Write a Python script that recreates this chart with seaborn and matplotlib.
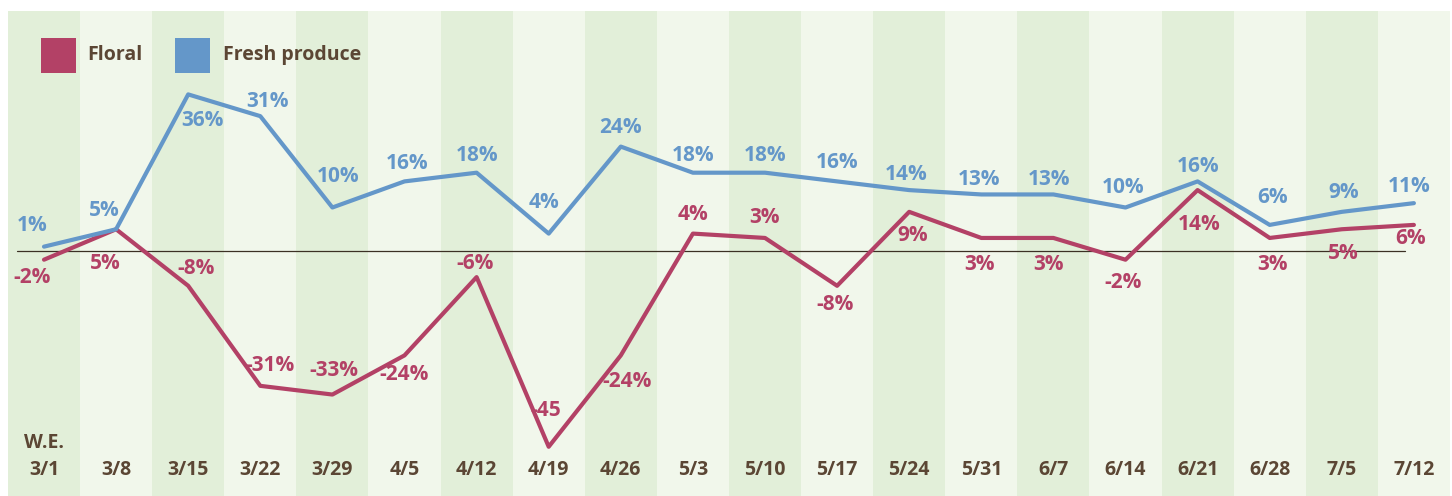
import matplotlib
matplotlib.use("Agg")
import matplotlib.pyplot as plt
import numpy as np
import pandas as pd
import seaborn as sns
from matplotlib.patches import Rectangle

# ---------------- data ----------------
weeks = ["3/1", "3/8", "3/15", "3/22", "3/29", "4/5", "4/12", "4/19", "4/26", "5/3",
         "5/10", "5/17", "5/24", "5/31", "6/7", "6/14", "6/21", "6/28", "7/5", "7/12"]
floral = [-2, 5, -8, -31, -33, -24, -6, -45, -24, 4, 3, -8, 9, 3, 3, -2, 14, 3, 5, 6]
fresh = [1, 5, 36, 31, 10, 16, 18, 4, 24, 18, 18, 16, 14, 13, 13, 10, 16, 6, 9, 11]
floral_labels = ["-2%", "5%", "-8%", "-31%", "-33%", "-24%", "-6%", "-45", "-24%", "4%",
                 "3%", "-8%", "9%", "3%", "3%", "-2%", "14%", "3%", "5%", "6%"]
fresh_labels = ["1%", "5%", "36%", "31%", "10%", "16%", "18%", "4%", "24%", "18%",
                "18%", "16%", "14%", "13%", "13%", "10%", "16%", "6%", "9%", "11%"]
series_names = ["Floral", "Fresh produce"]

# ---------------- layout (pixel offsets of value labels) ----------------
fresh_off = [(-12, 21), (-12, 19), (14, -26), (7, 15), (6, 31), (3, 18), (0, 17), (-5, 31),
             (0, 19), (0, 17), (0, 17), (0, 19), (-3, 16), (-2, 15), (-4, 15), (-2, 20),
             (0, 15), (3, 27), (2, 19), (-5, 17)]
floral_off = [(-12, -18), (-11, -34), (8, 17), (10, 20), (1, 24), (0, -19), (-2, 14), (-3, 36),
              (6, -26), (0, 19), (0, 20), (-2, -19), (3, -24), (-2, -27), (-5, -27), (-2, -23),
              (2, -34), (3, -27), (2, -24), (-3, -14)]

C_FLORAL = "#b34166"
C_FRESH = "#6497c9"
C_TEXT = "#5b4634"
BAND_DARK = "#e2efd9"
BAND_LIGHT = "#f1f7eb"

sns.set_theme(style="white")
plt.rcParams["font.family"] = ["Open Sans", "DejaVu Sans"]

W, H = 1452, 496
fig = plt.figure(figsize=(W / 100, H / 100), dpi=100)
ax = fig.add_axes([0, 0, 1, 1])

PX, X0, Y0, PY = 72.1, 44.0, 251.0, 4.35


def px2x(p):
    return (p - X0) / PX


def py2y(p):
    return (Y0 - p) / PY


n = len(weeks)
# background bands
for i in range(n):
    ax.add_patch(Rectangle((i - 0.5, py2y(H)), 1, py2y(11) - py2y(H),
                           facecolor=BAND_DARK if i % 2 == 0 else BAND_LIGHT,
                           edgecolor="none", zorder=0))

# zero line
ax.plot([px2x(17), px2x(1405)], [0, 0], color="#3b3024", lw=0.9, zorder=1)

df = pd.DataFrame({
    "i": list(range(n)) * 2,
    "value": floral + fresh,
    "series": [series_names[0]] * n + [series_names[1]] * n,
})
sns.lineplot(data=df, x="i", y="value", hue="series",
             palette={series_names[0]: C_FLORAL, series_names[1]: C_FRESH},
             linewidth=3.0, legend=False, ax=ax, zorder=3)
ax.set_xlim(px2x(0), px2x(W))
ax.set_ylim(py2y(H), py2y(0))
ax.axis("off")

FS = 15
for i in range(n):
    dx, dy = fresh_off[i]
    ax.annotate(fresh_labels[i], (i, fresh[i]), xytext=(dx * 0.72, dy * 0.72),
                textcoords="offset points", ha="center", va="center",
                color=C_FRESH, fontsize=FS, fontweight="bold", zorder=4)
    dx, dy = floral_off[i]
    ax.annotate(floral_labels[i], (i, floral[i]), xytext=(dx * 0.72, dy * 0.72),
                textcoords="offset points", ha="center", va="center",
                color=C_FLORAL, fontsize=FS, fontweight="bold", zorder=4)

# category labels
TFS = 14
for i, w in enumerate(weeks):
    ax.text(i, py2y(470), w, ha="center", va="center", color=C_TEXT,
            fontsize=TFS, fontweight="bold")
ax.text(0, py2y(443), "W.E.", ha="center", va="center", color=C_TEXT,
        fontsize=TFS, fontweight="bold")

# legend
for (x_left, x_text), name, col in zip([(41, 87), (175, 223)], series_names, [C_FLORAL, C_FRESH]):
    ax.add_patch(Rectangle((px2x(x_left), py2y(73)), 35 / PX, 35 / PY,
                           facecolor=col, edgecolor="none", zorder=5))
    ax.text(px2x(x_text), py2y(55), name, ha="left", va="center", color=C_TEXT,
            fontsize=14, fontweight="bold", zorder=5)

fig.savefig("out.png", dpi=100)
